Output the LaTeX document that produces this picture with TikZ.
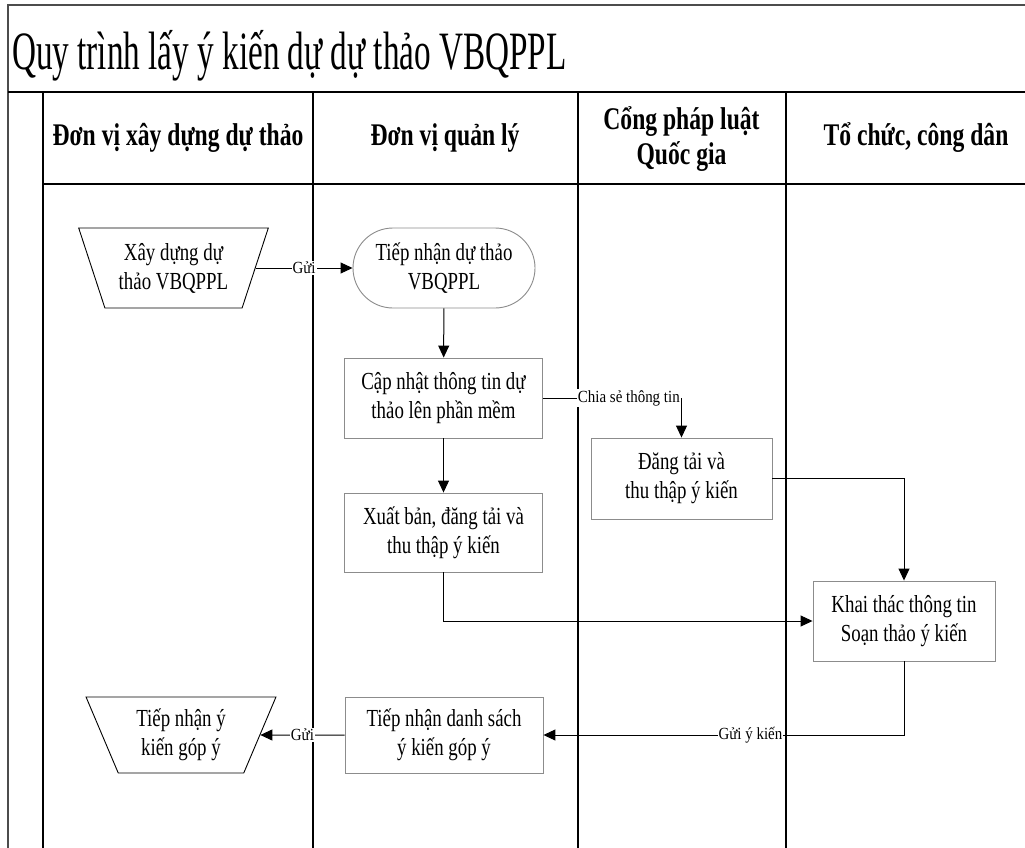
\documentclass[tikz,border=0pt]{standalone}
\usepackage{fontspec}
\setmainfont{Liberation Serif}
\newfontfamily\titlef[FakeStretch=0.615]{Liberation Serif}
\newfontfamily\headf[FakeStretch=0.75]{Liberation Serif}
\newfontfamily\bodyf[FakeStretch=0.77]{Liberation Serif}
\newfontfamily\lblf[FakeStretch=0.88]{Liberation Serif}
\usetikzlibrary{shapes.geometric,arrows.meta}
\begin{document}
\begin{tikzpicture}[x=1pt,y=-1pt,
  lane/.style={line width=1.8pt,black},
  outer/.style={line width=2.2pt,black!70},
  bodytext/.style={align=center,font=\bodyf\fontsize{24.5}{29}\selectfont},
  procbox/.style={bodytext,draw=black!45,line width=0.9pt,fill=white,minimum width=198pt,minimum height=80pt,inner sep=0pt},
  startbox/.style={bodytext,draw=black!45,line width=0.9pt,fill=white,minimum width=182pt,minimum height=80pt,inner sep=0pt,rounded corners=40pt},
  trapbox/.style={bodytext,draw=black,line width=0.9pt,fill=white,shape=trapezium,shape border rotate=180,trapezium stretches=true,minimum width=190pt,inner sep=0pt},
  conn/.style={line width=1pt,-{Triangle[length=12pt,width=11pt]}},
  lbl/.style={fill=white,inner sep=1pt,font=\lblf\fontsize{17}{20}\selectfont},
  hdr/.style={align=center,font=\headf\bfseries\fontsize{31.5}{31.5}\selectfont},
]
\useasboundingbox (0,0) rectangle (1025,848);
\fill[white] (0,0) rectangle (1025,848);

% frame and lanes
\draw[outer] (8,860) -- (8,5) -- (1040,5);
\draw[lane] (8,92) -- (1040,92);
\draw[lane] (43,92) -- (43,860);
\draw[lane] (43,184) -- (1040,184);
\draw[lane] (313,92) -- (313,860);
\draw[lane] (578,92) -- (578,860);
\draw[lane] (786,92) -- (786,860);

% title
\node[anchor=base west,inner sep=0pt,font=\titlef\fontsize{54}{54}\selectfont] (title) at (12,70) {Quy trình lấy ý kiến dự dự thảo VBQPPL};

% headers
\node[hdr] (h1) at (178,138) {Đơn vị xây dựng dự thảo};
\node[hdr] (h2) at (445,138) {Đơn vị quản lý};
\node[hdr] (h3) at (681.5,139) {Cổng pháp luật\\[3pt]Quốc gia};
\node[hdr] (h4) at (916,138) {Tổ chức, công dân};

% nodes
\node[trapbox,minimum height=80pt,trapezium left angle=67.3,trapezium right angle=67.3] (n1) at (173.5,268) {Xây dựng dự\\thảo VBQPPL};
\node[startbox] (n2) at (444,268) {Tiếp nhận dự thảo\\VBQPPL};
\node[procbox] (n3) at (443.5,398) {Cập nhật thông tin dự\\thảo lên phần mềm};
\node[procbox,minimum height=79pt] (n4) at (443.5,532.5) {Xuất bản, đăng tải và\\thu thập ý kiến};
\node[procbox,minimum width=181pt,minimum height=81pt] (n5) at (681.5,478.5) {Đăng tải và\\thu thập ý kiến};
\node[procbox,minimum width=182pt] (n6) at (904,621) {Khai thác thông tin\\Soạn thảo ý kiến};
\node[procbox,minimum height=76pt] (n7) at (444,735) {Tiếp nhận danh sách\\ý kiến góp ý};
\node[trapbox,minimum height=76pt,trapezium left angle=66.2,trapezium right angle=66.2] (n8) at (181,735) {Tiếp nhận ý\\kiến góp ý};

% connectors
\draw[conn] (n1) -- node[lbl] {Gửi} (n2.west);
\draw[conn] (n2) -- (n3);
\draw[conn] (n3) -- (n4);
\draw[conn] (n3.east) -| node[lbl,pos=0.31] {Chia sẻ thông tin} (n5.north);
\draw[conn] (n5.east) -| (n6.north);
\draw[conn] (n4.south) |- (n6.west);
\draw[conn] (n6.south) |- node[lbl,pos=0.713] {Gửi ý kiến} (n7.east);
\draw[conn] (n7.west) -- node[lbl] {Gửi} (n8);
\end{tikzpicture}
\end{document}
